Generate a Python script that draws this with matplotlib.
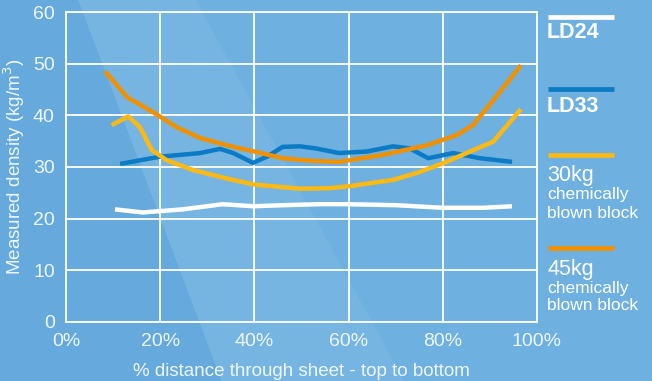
import matplotlib.pyplot as plt
from matplotlib.patches import Polygon
from matplotlib.lines import Line2D

plt.rcParams['font.family'] = ['Liberation Sans', 'DejaVu Sans']

# data (% through sheet, kg/m3)
ld24_x = [10.4, 16.3, 24.8, 33.3, 39.7, 46, 54, 59.7, 65, 70.3, 80, 88.5, 94.7]
ld24_y = [21.8, 21.2, 21.8, 22.8, 22.4, 22.6, 22.8, 22.8, 22.7, 22.6, 22.1, 22.1, 22.4]

ld33_x = [11.5, 20, 28.5, 32.7, 35.5, 39.7, 42.7, 46, 49.7, 53, 58, 63.9, 69.4, 73, 76.9, 82.2, 87.9, 94.7]
ld33_y = [30.6, 32.0, 32.7, 33.5, 32.7, 30.8, 32.0, 33.9, 34.0, 33.6, 32.7, 33.0, 34.0, 33.6, 31.7, 32.7, 31.7, 31.0]

kg30_x = [9.7, 13.2, 15.7, 18.2, 21.4, 27, 34, 40, 49.7, 56, 60.3, 69.4, 75, 80, 85.8, 90.7, 96.6]
kg30_y = [38.1, 39.8, 37.7, 33.3, 31.3, 29.4, 27.8, 26.6, 25.8, 25.9, 26.3, 27.5, 29.0, 30.7, 33.0, 34.9, 41.2]

kg45_x = [8.3, 13, 18.5, 23.5, 28.5, 35.5, 40, 46, 52, 58, 67, 76.6, 83, 86.4, 90.7, 96.6]
kg45_y = [48.5, 43.5, 40.6, 37.7, 35.6, 33.9, 33.0, 31.7, 31.2, 31.0, 32.3, 34.2, 36.2, 38.1, 42.9, 49.7]

xticks = [0, 20, 40, 60, 80, 100]
xtick_labels = ['0%', '20%', '40%', '60%', '80%', '100%']
yticks = [0, 10, 20, 30, 40, 50, 60]

c_white = 'white'
c_blue = '#0a7bc4'
c_yellow = '#fdb913'
c_orange = '#f29100'
txt = '#eef6fc'

fig = plt.figure(figsize=(6.52, 3.81), dpi=100)
fig.patch.set_facecolor('#6eb0e0')

# soft background shading
bg = fig.add_axes([0, 0, 1, 1], zorder=-5)
bg.set_xlim(0, 1)
bg.set_ylim(0, 1)
bg.axis('off')
bg.add_patch(Polygon([[0, 1], [0.12, 1], [0.34, 0], [0, 0]], closed=True,
                     facecolor='#66aadd', edgecolor='none'))
bg.add_patch(Polygon([[0.12, 1], [0.3, 1], [0.62, 0], [0.34, 0]], closed=True,
                     facecolor='#7ebbe4', edgecolor='none', alpha=0.5))

ax = fig.add_axes([0.1012, 0.1549, 0.7224, 0.8136])
ax.set_facecolor('none')
ax.set_xlim(0, 100)
ax.set_ylim(0, 60)
ax.set_xticks(xticks)
ax.set_xticklabels(xtick_labels)
ax.set_yticks(yticks)
ax.grid(True, color='white', lw=1.3)
ax.set_axisbelow(True)
for s in ax.spines.values():
    s.set_color('white')
    s.set_linewidth(1.3)
ax.tick_params(length=0, colors=txt, labelsize=14, pad=8)

lw = 3.2
ax.plot(ld24_x, ld24_y, color=c_white, lw=lw, solid_capstyle='butt', solid_joinstyle='round')
ax.plot(ld33_x, ld33_y, color=c_blue, lw=lw, solid_capstyle='butt', solid_joinstyle='round')
ax.plot(kg30_x, kg30_y, color=c_yellow, lw=lw, solid_capstyle='butt', solid_joinstyle='round')
ax.plot(kg45_x, kg45_y, color=c_orange, lw=lw, solid_capstyle='butt', solid_joinstyle='round')

ax.set_xlabel('% distance through sheet - top to bottom', color=txt, fontsize=13.5, labelpad=9)
ax.set_ylabel('Measured density (kg/m$^3$)', color=txt, fontsize=13.5, labelpad=4)

# legend drawn by hand at the right
def fx(px):
    return px / 652

def fy(py):
    return 1 - py / 381

items = [
    (c_white, 17, [('LD24', 15.5, 'bold', 33)]),
    (c_blue, 89, [('LD33', 15.5, 'bold', 106)]),
    (c_yellow, 155, [('30kg', 15.5, 'normal', 176), ('chemically', 12.5, 'normal', 195),
                     ('blown block', 12.5, 'normal', 213)]),
    (c_orange, 248, [('45kg', 15.5, 'normal', 270), ('chemically', 12.5, 'normal', 288),
                     ('blown block', 12.5, 'normal', 306)]),
]
for col, ly, labels in items:
    fig.add_artist(Line2D([fx(548), fx(614)], [fy(ly), fy(ly)], color=col, lw=3.4,
                          solid_capstyle='butt'))
    for t, size, weight, ty in labels:
        fig.text(fx(547), fy(ty), t, color='white', fontsize=size, fontweight=weight,
                 va='center', ha='left')

fig.savefig('out.png', dpi=100, facecolor=fig.get_facecolor())
